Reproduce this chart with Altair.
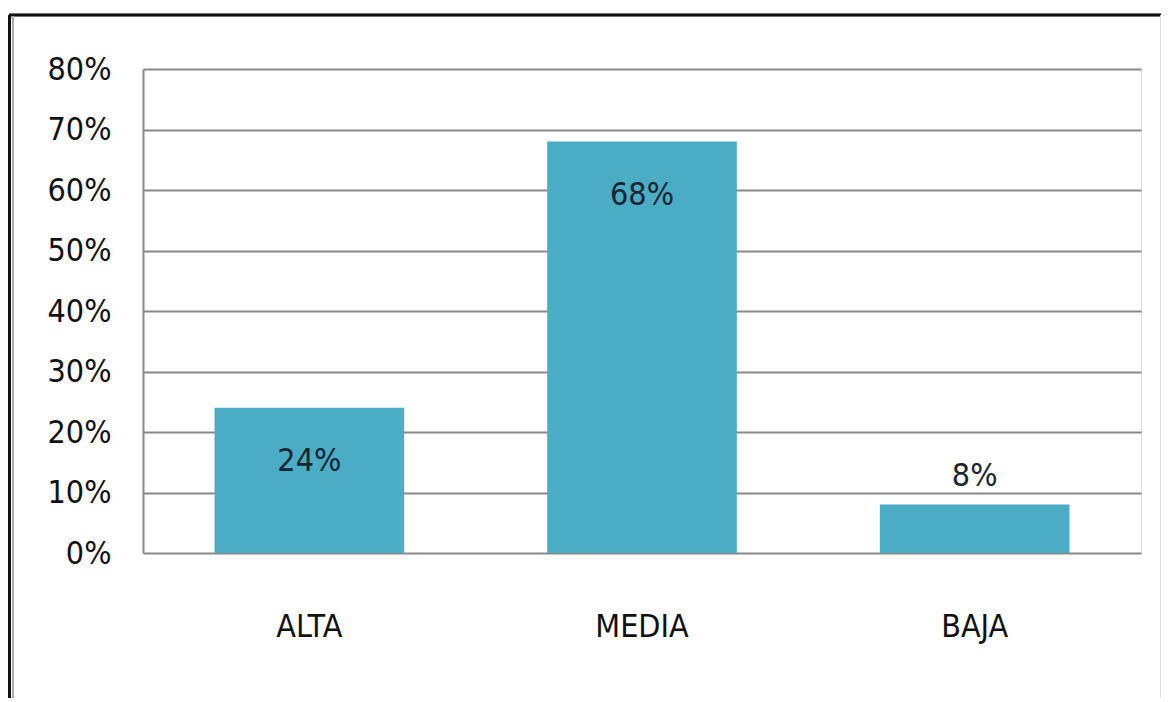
import altair as alt
import pandas as pd

categories = ["ALTA", "MEDIA", "BAJA"]
values = [0.24, 0.68, 0.08]
labels = ["24%", "68%", "8%"]

df = pd.DataFrame({"cat": categories, "val": values, "lab": labels})

FONT = "DejaVu Sans Condensed, Lato, sans-serif"
FS = 32
W, H = 998, 484

base = alt.Chart(df)

bars = base.mark_bar(color="#4BACC6").encode(
    x=alt.X("cat:N", sort=categories, title=None,
            scale=alt.Scale(paddingInner=0.43, paddingOuter=0.215),
            axis=alt.Axis(labelAngle=0, labelFont=FONT, labelFontSize=FS,
                          labelColor="#111", labelPadding=58, ticks=False,
                          domain=False, grid=False)),
    y=alt.Y("val:Q", title=None,
            scale=alt.Scale(domain=[0, 0.8], nice=False),
            axis=alt.Axis(format=".0%", values=[0, .1, .2, .3, .4, .5, .6, .7, .8],
                          labelFont=FONT, labelFontSize=FS, labelColor="#111",
                          labelPadding=32, ticks=False, domain=True,
                          domainColor="#8a8a8a", domainWidth=2,
                          grid=True, gridColor="#8a8a8a", gridWidth=2)),
)

inside = base.transform_filter("datum.val > 0.15").mark_text(
    font=FONT, fontSize=FS, color="#1a2530", baseline="middle", dy=53
).encode(x=alt.X("cat:N", sort=categories), y="val:Q", text="lab:N")

above = base.transform_filter("datum.val <= 0.15").mark_text(
    font=FONT, fontSize=FS, color="#1a2530", baseline="middle", dy=-29
).encode(x=alt.X("cat:N", sort=categories), y="val:Q", text="lab:N")

# frame around the whole picture
frame_top = alt.Chart(df).mark_rule(color="#111", strokeWidth=2.5).encode(
    x=alt.value(-134), x2=alt.value(1019), y=alt.value(-54))
frame_left = alt.Chart(df).mark_rule(color="#111", strokeWidth=2.5).encode(
    x=alt.value(-133.5), y=alt.value(-54), y2=alt.value(640))
frame_left2 = alt.Chart(df).mark_rule(color="#aaa", strokeWidth=1.5).encode(
    x=alt.value(-130), y=alt.value(-53), y2=alt.value(640))
frame_right = alt.Chart(df).mark_rule(color="#ddd", strokeWidth=1.5).encode(
    x=alt.value(1018), y=alt.value(-54), y2=alt.value(640))
frame_bottom = alt.Chart(df).mark_rule(color="#ddd", strokeWidth=1.5).encode(
    x=alt.value(-130), x2=alt.value(1018), y=alt.value(630))

chart = alt.layer(bars, inside, above, frame_top, frame_left, frame_left2,
                  frame_right, frame_bottom).properties(
    width=W, height=H,
    padding={"left": 135, "top": 61, "right": 20, "bottom": 145},
    autosize=alt.AutoSizeParams(type="none"),
).configure_view(stroke=None).configure(background="white")

chart.save("out.html", embed_options={"renderer": "svg", "actions": False})
